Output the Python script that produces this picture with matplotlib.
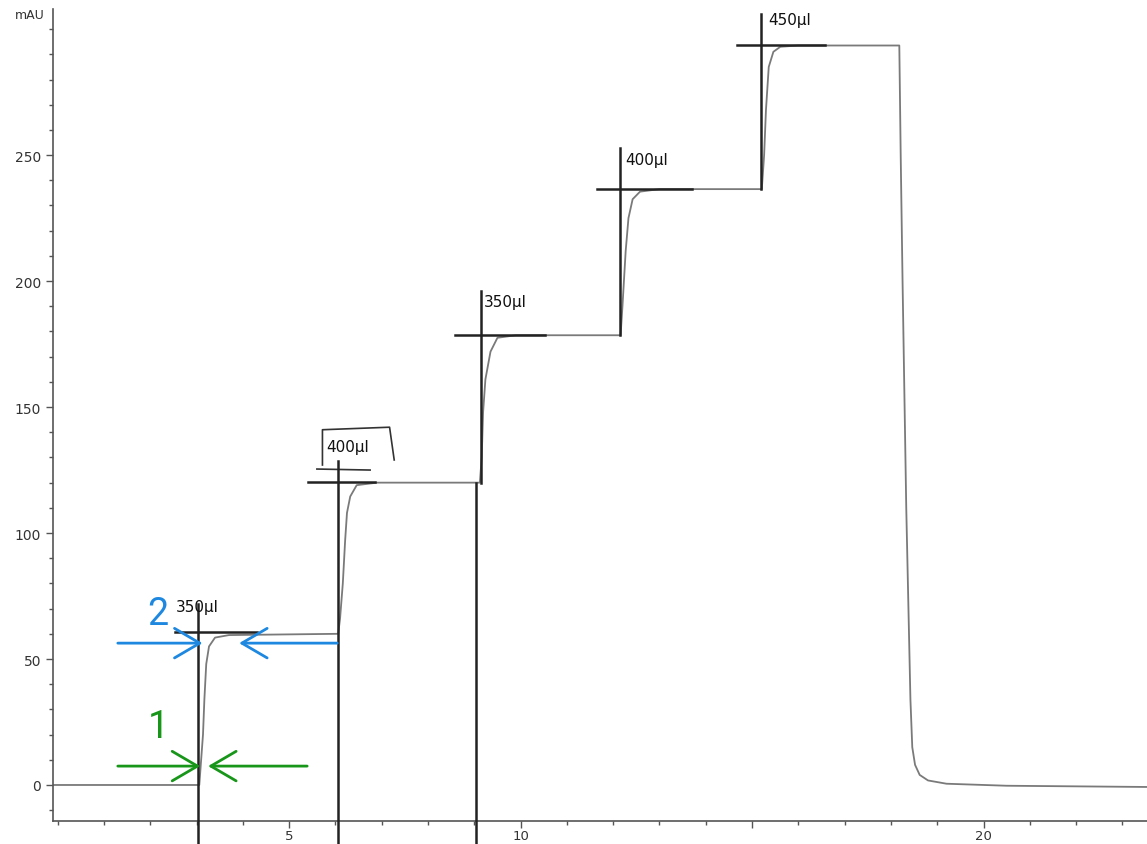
import matplotlib.pyplot as plt
from matplotlib.patches import FancyArrowPatch
from matplotlib.ticker import MultipleLocator

# chromatogram trace (time in min, signal in mAU)
trace_time = [-0.1, 3.06, 3.10, 3.14, 3.17, 3.21, 3.27, 3.40, 3.70,
              6.06, 6.10, 6.16, 6.21, 6.25, 6.32, 6.46, 6.90,
              9.12, 9.16, 9.19, 9.24, 9.35, 9.50, 9.90,
              12.16, 12.20, 12.27, 12.33, 12.42, 12.58, 13.00,
              15.21, 15.26, 15.30, 15.36, 15.46, 15.61, 16.00,
              18.18, 18.21, 18.25, 18.33, 18.42, 18.46, 18.52, 18.62, 18.8, 19.2, 20.5, 23.6]
trace_mau = [0, 0, 10, 20, 34, 48, 55, 58.5, 59.5,
             60, 66, 80, 97, 108, 114.5, 119, 120,
             120, 130, 148, 161, 172, 177.5, 178.5,
             178.5, 190, 212, 225, 232.5, 235.5, 236.5,
             236.5, 250, 268, 285, 291, 293, 293.5,
             293.5, 250, 200, 110, 34, 15, 8, 4, 1.8, 0.5, -0.3, -0.8]

# hand-drawn marks on the printout
mark_times = [3.03, 6.06, 9.04, 9.14, 12.15, 15.2]
mark_low = [-24, -24, -24, 120, 178.5, 236.5]
mark_high = [72, 128.6, 120, 196, 253, 306]
level_y = [60.7, 120.2, 178.6, 236.5, 293.8]
level_from = [2.54, 5.41, 8.59, 11.65, 14.67]
level_to = [4.3, 6.86, 10.53, 13.7, 16.58]
volume_labels = ['350μl', '400μl', '350μl', '400μl', '450μl']
label_t = [2.55, 5.80, 9.21, 12.26, 15.35]
label_y = [71, 134.5, 192, 248.4, 304]

fig = plt.figure(figsize=(11.47, 8.45), dpi=100)
ax = fig.add_axes([0.0462, 0.0272, 0.9538, 0.961])
ax.set_xlim(-0.1, 23.53)
ax.set_ylim(-14.3, 308)

ax.plot(trace_time, trace_mau, color='#7a7a7a', lw=1.3, zorder=2)

for t, lo, hi in zip(mark_times, mark_low, mark_high):
    ax.plot([t, t], [lo, hi], color='#222222', lw=1.8, clip_on=False, zorder=3)
for yv, a, b in zip(level_y, level_from, level_to):
    ax.plot([a, b], [yv, yv], color='#222222', lw=1.8, zorder=3)
for txt, t, yv in zip(volume_labels, label_t, label_y):
    ax.text(t, yv, txt, fontsize=11, color='#111111', ha='left', va='center', clip_on=False)

# box drawn round the second label
ax.plot([5.72, 5.72, 7.17, 7.27], [127, 141, 142, 129], color='#333333', lw=1.2)
ax.plot([5.6, 6.75], [125.4, 125.0], color='#333333', lw=1.2)

# coloured arrows
blue = '#1e88e0'
green = '#18961a'
arrows = [(1.24, 3.19, 56.3, blue), (6.10, 3.86, 56.3, blue),
          (1.24, 3.14, 7.5, green), (5.45, 3.19, 7.5, green)]
for a, b, yv, c in arrows:
    ax.add_patch(FancyArrowPatch((a, yv), (b, yv), arrowstyle='->,head_length=0.65,head_width=0.38',
                                 mutation_scale=28, color=c, lw=2, zorder=4))
ax.text(2.17, 67.9, '2', color=blue, fontsize=27, ha='center', va='center', family='Roboto')
ax.text(2.17, 23.4, '1', color=green, fontsize=27, ha='center', va='center', family='Roboto')

for s in ['top', 'right']:
    ax.spines[s].set_visible(False)
for s in ['left', 'bottom']:
    ax.spines[s].set_color('#555555')
    ax.spines[s].set_linewidth(1.2)

ax.set_xticks([5, 10, 15, 20])
ax.set_xticklabels(['5', '10', '', '20'])
ax.set_yticks([0, 50, 100, 150, 200, 250])
ax.xaxis.set_minor_locator(MultipleLocator(1))
ax.yaxis.set_minor_locator(MultipleLocator(10))
ax.tick_params(which='both', colors='#555555', labelcolor='#333333', labelsize=10, length=5, width=1)
ax.tick_params(which='minor', length=3)
ax.tick_params(axis='x', labelsize=9.5, pad=1)

fig.text(0.013, 0.982, 'mAU', fontsize=9, color='#333333', ha='left', va='center')

fig.savefig('out.png', dpi=100)
